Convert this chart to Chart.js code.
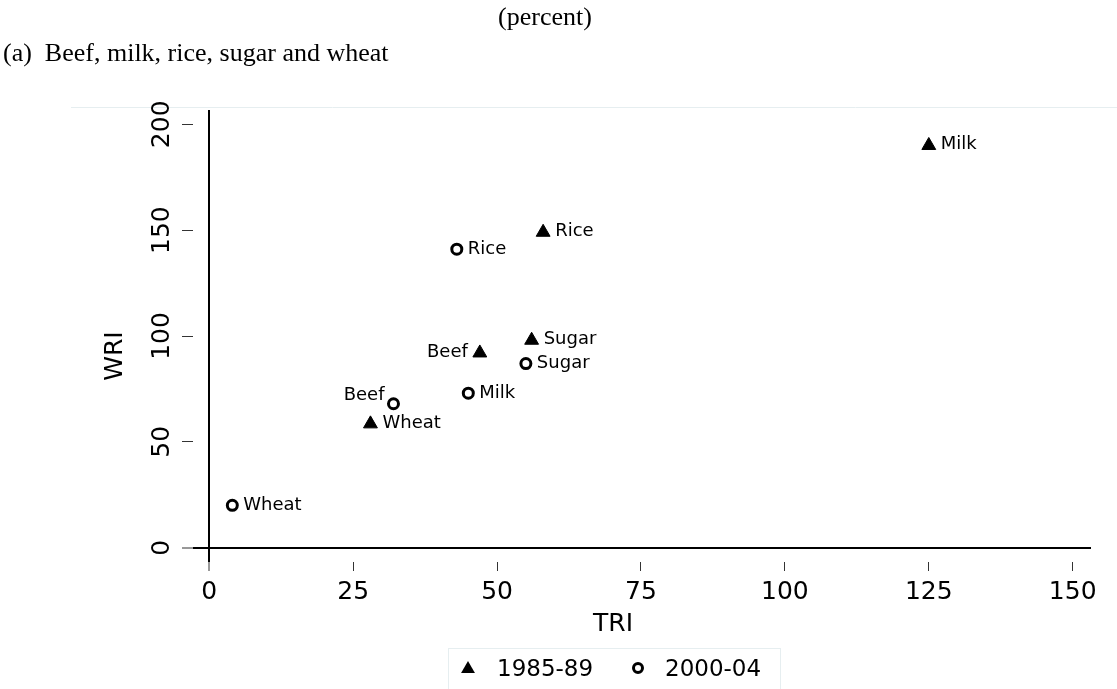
<!DOCTYPE html>
<html>
<head>
<meta charset="utf-8">
<script src="https://cdn.jsdelivr.net/npm/chart.js@4/dist/chart.umd.min.js"></script>
<style>
  html, body { margin: 0; padding: 0; background: #ffffff; }
  canvas { display: block; }
</style>
</head>
<body>
<canvas id="c" width="1117" height="689"></canvas>
<script>
// ---- data ----
const products = ['Beef', 'Milk', 'Rice', 'Sugar', 'Wheat'];
const series = ['1985-89', '2000-04'];
const tri8589 = [47, 125, 58, 56, 28];
const wri8589 = [92, 190, 149, 98, 58.5];
const tri0004 = [32, 45, 43, 55, 4];
const wri0004 = [68, 73, 141, 87, 20];
const xTickValues = [0, 25, 50, 75, 100, 125, 150];
const yTickValues = [0, 50, 100, 150, 200];
const xTitle = 'TRI';
const yTitle = 'WRI';
const unitNote = '(percent)';
const panelTitle = '(a)  Beef, milk, rice, sugar and wheat';

// label placement (style): per series, per product
const labelPlacement = [
  ['left', 'right', 'right', 'right', 'right'],
  ['upleft', 'right', 'right', 'right', 'right']
];

const FONT = '"DejaVu Sans", sans-serif';
const SERIF = '"Liberation Serif", "Times New Roman", serif';

function pts(xs, ys) { return xs.map((x, i) => ({ x: x, y: ys[i] })); }

const pointLabels = {
  id: 'pointLabels',
  afterDatasetsDraw(chart) {
    const ctx = chart.ctx;
    ctx.save();
    ctx.font = '18px ' + FONT;
    ctx.fillStyle = '#000';
    ctx.textBaseline = 'middle';
    chart.data.datasets.forEach((ds, di) => {
      const meta = chart.getDatasetMeta(di);
      meta.data.forEach((el, i) => {
        const pos = labelPlacement[di][i];
        const tri = ds.pointStyle === 'triangle';
        const cy = tri ? el.y - 1 : el.y;
        if (pos === 'right') {
          ctx.textAlign = 'left';
          ctx.fillText(products[i], el.x + (tri ? 12 : 11), cy);
        } else if (pos === 'left') {
          ctx.textAlign = 'right';
          ctx.fillText(products[i], el.x - 12, cy);
        } else if (pos === 'upleft') {
          ctx.textAlign = 'right';
          ctx.fillText(products[i], el.x - 9, cy - 8);
        }
      });
    });
    ctx.restore();
  }
};

const decorations = {
  id: 'decorations',
  beforeDraw(chart) {
    const ctx = chart.ctx;
    ctx.save();
    ctx.fillStyle = '#fff';
    ctx.fillRect(0, 0, chart.width, chart.height);
    // faint plot-region outline
    ctx.strokeStyle = '#e6eef0';
    ctx.lineWidth = 1;
    ctx.beginPath();
    ctx.moveTo(71, 107.5); ctx.lineTo(chart.width, 107.5);
    ctx.stroke();
    // header texts
    ctx.fillStyle = '#000';
    ctx.font = '26px ' + SERIF;
    ctx.textBaseline = 'middle';
    ctx.textAlign = 'center';
    ctx.fillText(unitNote, 545, 18);
    ctx.textAlign = 'left';
    ctx.fillText(panelTitle, 3, 54);
    ctx.restore();
  },
  afterDraw(chart) {
    const ctx = chart.ctx;
    ctx.save();
    ctx.fillStyle = '#000';
    ctx.textBaseline = 'middle';
    ctx.textAlign = 'center';
    ctx.font = '25px ' + FONT;
    // axis titles
    ctx.fillText(xTitle, 613, 624);
    ctx.save();
    ctx.translate(115, 356);
    ctx.rotate(-Math.PI / 2);
    ctx.fillText(yTitle, 0, 0);
    ctx.restore();
    // legend box
    ctx.strokeStyle = '#e6eef0';
    ctx.lineWidth = 1;
    ctx.strokeRect(448.5, 648.5, 332, 45);
    ctx.font = '23px ' + FONT;
    ctx.textAlign = 'left';
    const items = [{ mx: 468, tx: 497 }, { mx: 638, tx: 665 }];
    chart.data.datasets.forEach((ds, di) => {
      const it = items[di];
      const cy = 669;
      ctx.beginPath();
      if (ds.pointStyle === 'triangle') {
        const r = 8;
        ctx.moveTo(it.mx, cy - r);
        ctx.lineTo(it.mx + r * Math.sin(2 * Math.PI / 3), cy - r * Math.cos(2 * Math.PI / 3));
        ctx.lineTo(it.mx + r * Math.sin(4 * Math.PI / 3), cy - r * Math.cos(4 * Math.PI / 3));
        ctx.closePath();
        ctx.fillStyle = '#000';
        ctx.fill();
      } else {
        ctx.arc(it.mx, cy - 1, 4.5, 0, Math.PI * 2);
        ctx.lineWidth = 3;
        ctx.strokeStyle = '#000';
        ctx.stroke();
      }
      ctx.fillStyle = '#000';
      ctx.fillText(ds.label, it.tx, 670);
    });
    ctx.restore();
  }
};

new Chart(document.getElementById('c'), {
  type: 'scatter',
  data: {
    datasets: [
      {
        label: series[0],
        data: pts(tri8589, wri8589),
        pointStyle: 'triangle',
        pointRadius: 8,
        pointHoverRadius: 8,
        backgroundColor: '#000',
        borderColor: '#000',
        pointBorderWidth: 1
      },
      {
        label: series[1],
        data: pts(tri0004, wri0004),
        pointStyle: 'circle',
        pointRadius: 5,
        pointHoverRadius: 5,
        backgroundColor: 'rgba(0,0,0,0)',
        borderColor: '#000',
        pointBorderWidth: 3
      }
    ]
  },
  options: {
    responsive: false,
    animation: false,
    devicePixelRatio: 1,
    layout: { padding: { top: 110, left: 137, right: 26, bottom: 0 } },
    plugins: {
      legend: { display: false },
      tooltip: { enabled: false },
      title: { display: false }
    },
    scales: {
      x: {
        type: 'linear',
        position: 'bottom',
        min: -2.83,
        max: 153.18,
        afterBuildTicks(scale) { scale.ticks = xTickValues.map(v => ({ value: v })); },
        afterFit(scale) { scale.height = 127; scale.paddingLeft = 0; scale.paddingRight = 0; },
        border: { display: false },
        grid: {
          drawOnChartArea: true,
          color: (c) => (c.tick && c.tick.value === 0 ? '#000' : 'rgba(0,0,0,0)'),
          lineWidth: (c) => (c.tick && c.tick.value === 0 ? 2 : 1),
          tickColor: '#333',
          tickWidth: 1,
          tickLength: 9
        },
        ticks: {
          color: '#000',
          font: { family: FONT, size: 25 },
          padding: 6,
          maxRotation: 0,
          minRotation: 0,
          callback: (v) => String(v)
        }
      },
      y: {
        type: 'linear',
        position: 'left',
        min: -6.75,
        max: 206.76,
        afterBuildTicks(scale) { scale.ticks = yTickValues.map(v => ({ value: v })); },
        afterFit(scale) { scale.width = 56; scale.paddingTop = 0; scale.paddingBottom = 0; },
        border: { display: false },
        grid: {
          drawOnChartArea: true,
          color: (c) => (c.tick && c.tick.value === 0 ? '#000' : 'rgba(0,0,0,0)'),
          lineWidth: (c) => (c.tick && c.tick.value === 0 ? 2 : 1),
          tickColor: '#333',
          tickWidth: 1,
          tickLength: 11
        },
        ticks: {
          color: '#000',
          font: { family: FONT, size: 25 },
          padding: -4,
          crossAlign: 'center',
          minRotation: 90,
          maxRotation: 90,
          callback: (v) => String(v)
        }
      }
    }
  },
  plugins: [decorations, pointLabels]
});
</script>
</body>
</html>
